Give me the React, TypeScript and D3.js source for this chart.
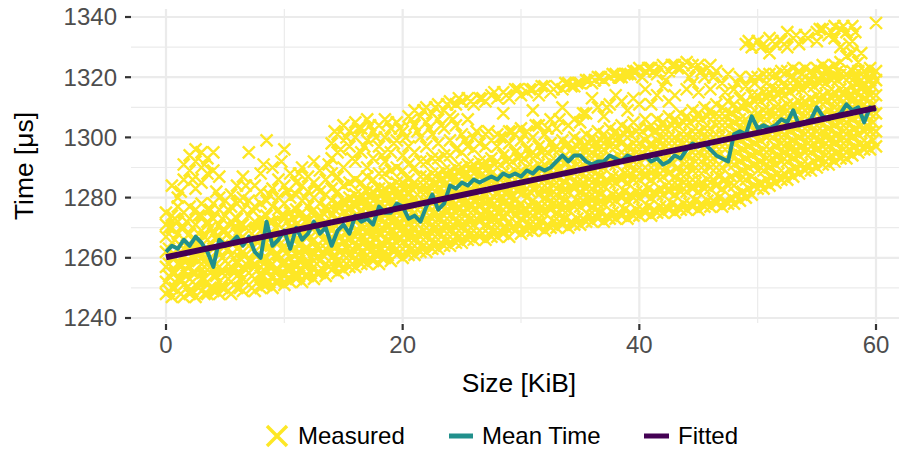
import React from 'react';
import * as d3 from 'd3';

const W = 899;
const H = 450;

const xTicks = [0, 20, 40, 60];
const xMinor = [10, 30, 50];
const yTicks = [1240, 1260, 1280, 1300, 1320, 1340];
const yMinor = [1250, 1270, 1290, 1310, 1330];

// fitted linear model, two ends
const fittedSize = [0, 60];
const fittedTime = [1260.2, 1309.8];

// mean time per size [size KiB, time us]
const meanTime: [number, number][] = [
  [0, 1262], [0.5, 1264], [1, 1263], [1.5, 1266], [2, 1264], [2.5, 1267], [3, 1265], [3.5, 1262],
  [4, 1257], [4.5, 1266], [5, 1264], [5.5, 1265], [6, 1267], [6.5, 1264], [7, 1267], [7.5, 1262],
  [8, 1260], [8.5, 1272], [9, 1264], [9.5, 1266], [10, 1269], [10.5, 1263], [11, 1270], [11.5, 1266],
  [12, 1268], [12.5, 1272], [13, 1268], [13.5, 1270], [14, 1264], [14.5, 1269], [15, 1271], [15.5, 1268],
  [16, 1274], [16.5, 1272], [17, 1273], [17.5, 1271], [18, 1277], [18.5, 1275], [19, 1275], [19.5, 1278],
  [20, 1277], [20.5, 1273], [21, 1274], [21.5, 1272], [22, 1277], [22.5, 1281], [23, 1276], [23.5, 1278],
  [24, 1284], [24.5, 1283], [25, 1285], [25.5, 1284], [26, 1286], [26.5, 1285], [27, 1286], [27.5, 1287],
  [28, 1286], [28.5, 1288], [29, 1287], [29.5, 1288], [30, 1287], [30.5, 1289], [31, 1288], [31.5, 1290],
  [32, 1289], [32.5, 1290], [33, 1292], [33.5, 1294], [34, 1292], [34.5, 1294], [35, 1294], [35.5, 1292],
  [36, 1291], [36.5, 1292], [37, 1292], [37.5, 1294], [38, 1293], [38.5, 1292], [39, 1294], [39.5, 1293],
  [40, 1293], [40.5, 1294], [41, 1292], [41.5, 1293], [42, 1291], [42.5, 1292], [43, 1294], [43.5, 1293],
  [44, 1296], [44.5, 1298], [45, 1297], [45.5, 1298], [46, 1296], [46.5, 1294], [47, 1293], [47.5, 1292],
  [48, 1301], [48.5, 1302], [49, 1301], [49.5, 1307], [50, 1303], [50.5, 1304], [51, 1303], [51.5, 1304],
  [52, 1306], [52.5, 1305], [53, 1309], [53.5, 1304], [54, 1305], [54.5, 1306], [55, 1310], [55.5, 1307],
  [56, 1306], [56.5, 1307], [57, 1308], [57.5, 1311], [58, 1309], [58.5, 1310], [59, 1305], [59.5, 1310],
  [60, 1309],
];

// measured samples: first entry is the size (KiB), the rest are times (us)
const measured: number[][] = [
  [0, 1248, 1252, 1257, 1262, 1267, 1271, 1275],
  [0.5, 1247, 1250, 1255, 1260, 1265, 1270, 1274, 1284],
  [1, 1249, 1253, 1258, 1263, 1268, 1272, 1277, 1280],
  [1.5, 1247, 1251, 1256, 1261, 1266, 1270, 1275, 1291, 1286],
  [2, 1248, 1253, 1257, 1262, 1268, 1273, 1277, 1289, 1294],
  [2.5, 1247, 1251, 1255, 1260, 1265, 1271, 1276, 1292, 1296, 1283],
  [3, 1249, 1253, 1258, 1264, 1269, 1274, 1278, 1290, 1295, 1285],
  [3.5, 1248, 1252, 1256, 1261, 1266, 1272, 1276, 1293, 1288],
  [4, 1249, 1254, 1259, 1263, 1268, 1273, 1278, 1295, 1289],
  [4.5, 1248, 1252, 1257, 1262, 1267, 1271, 1276, 1280, 1287],
  [5, 1250, 1254, 1259, 1264, 1269, 1274, 1279],
  [5.5, 1248, 1252, 1257, 1261, 1266, 1272, 1277, 1281],
  [6, 1250, 1254, 1258, 1263, 1268, 1273, 1278, 1284],
  [6.5, 1249, 1253, 1257, 1262, 1267, 1271, 1276, 1280, 1287],
  [7, 1251, 1255, 1259, 1264, 1269, 1274, 1279, 1295],
  [7.5, 1249, 1253, 1258, 1262, 1267, 1272, 1277, 1284],
  [8, 1250, 1254, 1259, 1264, 1269, 1273, 1278, 1282, 1288],
  [8.5, 1251, 1255, 1260, 1265, 1270, 1274, 1279, 1299],
  [9, 1250, 1254, 1258, 1263, 1268, 1272, 1277, 1283, 1290],
  [9.5, 1252, 1256, 1261, 1266, 1271, 1276, 1280, 1286],
  [10, 1251, 1255, 1259, 1264, 1269, 1274, 1278, 1284, 1296],
  [10.5, 1252, 1256, 1260, 1265, 1270, 1275, 1280, 1288],
  [11, 1253, 1257, 1261, 1266, 1271, 1276, 1281, 1285],
  [11.5, 1252, 1256, 1261, 1265, 1270, 1275, 1279, 1284, 1290],
  [12, 1254, 1258, 1263, 1268, 1272, 1277, 1282, 1287],
  [12.5, 1253, 1257, 1262, 1266, 1271, 1276, 1280, 1285, 1292],
  [13, 1255, 1259, 1263, 1268, 1273, 1278, 1282, 1289],
  [13.5, 1254, 1258, 1263, 1267, 1272, 1277, 1281, 1286],
  [14, 1256, 1260, 1264, 1269, 1274, 1279, 1283, 1288, 1293, 1298],
  [14.5, 1255, 1259, 1264, 1268, 1273, 1278, 1282, 1287, 1301, 1295],
  [15, 1256, 1261, 1265, 1270, 1275, 1279, 1284, 1290, 1304],
  [15.5, 1257, 1261, 1266, 1271, 1276, 1280, 1285, 1297, 1302],
  [16, 1257, 1262, 1267, 1272, 1277, 1281, 1286, 1292, 1300, 1305],
  [16.5, 1258, 1262, 1267, 1271, 1276, 1281, 1285, 1295, 1303],
  [17, 1258, 1263, 1268, 1273, 1277, 1282, 1287, 1290, 1299, 1306],
  [17.5, 1259, 1263, 1268, 1272, 1277, 1282, 1286, 1293, 1302],
  [18, 1258, 1263, 1268, 1273, 1278, 1283, 1288, 1297, 1304],
  [18.5, 1260, 1264, 1269, 1274, 1279, 1283, 1288, 1292, 1300, 1306],
  [19, 1259, 1264, 1269, 1274, 1279, 1284, 1289, 1295, 1303],
  [19.5, 1261, 1265, 1270, 1275, 1280, 1285, 1290, 1299, 1305],
  [20, 1260, 1265, 1270, 1275, 1280, 1285, 1289, 1294, 1302],
  [20.5, 1261, 1266, 1271, 1276, 1281, 1286, 1291, 1297, 1307],
  [21, 1261, 1266, 1270, 1275, 1280, 1285, 1290, 1295, 1304, 1309],
  [21.5, 1262, 1267, 1272, 1277, 1282, 1287, 1292, 1300, 1307],
  [22, 1262, 1267, 1272, 1277, 1282, 1287, 1292, 1297, 1305, 1310],
  [22.5, 1263, 1268, 1273, 1278, 1283, 1288, 1293, 1301, 1308],
  [23, 1263, 1268, 1273, 1278, 1283, 1288, 1293, 1298, 1306, 1311],
  [23.5, 1264, 1269, 1274, 1279, 1284, 1289, 1294, 1303, 1309],
  [24, 1264, 1269, 1274, 1279, 1284, 1289, 1294, 1299, 1307, 1312],
  [24.5, 1265, 1270, 1275, 1280, 1285, 1290, 1296, 1304, 1311],
  [25, 1265, 1270, 1275, 1280, 1285, 1290, 1295, 1301, 1312],
  [25.5, 1266, 1271, 1276, 1281, 1286, 1291, 1297, 1306, 1313],
  [26, 1266, 1271, 1276, 1281, 1286, 1291, 1296, 1300, 1311],
  [26.5, 1267, 1272, 1277, 1282, 1287, 1292, 1298, 1313],
  [27, 1266, 1271, 1276, 1281, 1287, 1292, 1297, 1301, 1312],
  [27.5, 1267, 1272, 1277, 1283, 1288, 1293, 1299, 1314],
  [28, 1267, 1272, 1277, 1282, 1287, 1292, 1297, 1301, 1313],
  [28.5, 1268, 1273, 1278, 1283, 1288, 1294, 1300, 1308, 1315],
  [29, 1267, 1272, 1278, 1283, 1288, 1293, 1298, 1302, 1313],
  [29.5, 1269, 1274, 1279, 1284, 1289, 1295, 1301, 1316],
  [30, 1268, 1273, 1278, 1284, 1289, 1294, 1299, 1303, 1314],
  [30.5, 1269, 1274, 1280, 1285, 1290, 1296, 1302, 1315],
  [31, 1269, 1274, 1279, 1285, 1290, 1295, 1300, 1309, 1316],
  [31.5, 1270, 1275, 1281, 1286, 1291, 1297, 1304, 1314],
  [32, 1269, 1275, 1280, 1286, 1291, 1296, 1301, 1317],
  [32.5, 1270, 1276, 1281, 1287, 1292, 1298, 1306, 1315],
  [33, 1270, 1275, 1281, 1287, 1292, 1297, 1303, 1317],
  [33.5, 1271, 1276, 1282, 1288, 1293, 1299, 1310, 1316],
  [34, 1270, 1276, 1282, 1287, 1293, 1298, 1304, 1318],
  [34.5, 1271, 1277, 1283, 1288, 1294, 1300, 1306, 1317],
  [35, 1271, 1277, 1282, 1288, 1294, 1299, 1305, 1318],
  [35.5, 1272, 1278, 1283, 1289, 1295, 1301, 1308, 1319],
  [36, 1272, 1277, 1283, 1289, 1295, 1300, 1313, 1318],
  [36.5, 1273, 1278, 1284, 1290, 1296, 1302, 1310, 1320],
  [37, 1272, 1278, 1284, 1290, 1296, 1301, 1307, 1319],
  [37.5, 1273, 1279, 1285, 1291, 1297, 1303, 1311, 1320],
  [38, 1273, 1279, 1285, 1291, 1297, 1302, 1314, 1321],
  [38.5, 1274, 1280, 1286, 1292, 1298, 1304, 1312, 1320],
  [39, 1273, 1279, 1285, 1291, 1297, 1303, 1309, 1321],
  [39.5, 1274, 1280, 1286, 1292, 1298, 1305, 1313, 1322],
  [40, 1274, 1280, 1286, 1292, 1298, 1303, 1311, 1323],
  [40.5, 1275, 1281, 1287, 1293, 1299, 1306, 1316, 1322],
  [41, 1274, 1280, 1286, 1292, 1298, 1304, 1311, 1323],
  [41.5, 1275, 1281, 1287, 1293, 1299, 1306, 1314, 1321],
  [42, 1275, 1281, 1287, 1293, 1300, 1305, 1317, 1324],
  [42.5, 1276, 1282, 1288, 1294, 1300, 1307, 1312, 1322],
  [43, 1275, 1281, 1287, 1294, 1300, 1306, 1314, 1324],
  [43.5, 1276, 1282, 1288, 1295, 1301, 1308, 1323],
  [44, 1276, 1282, 1288, 1294, 1301, 1307, 1316, 1325],
  [44.5, 1277, 1283, 1289, 1295, 1302, 1309, 1318, 1324],
  [45, 1276, 1282, 1289, 1295, 1302, 1308, 1315, 1324],
  [45.5, 1277, 1283, 1289, 1296, 1303, 1310, 1320],
  [46, 1277, 1283, 1290, 1296, 1303, 1309, 1316, 1324],
  [46.5, 1278, 1284, 1290, 1297, 1304, 1311, 1322],
  [47, 1277, 1283, 1290, 1297, 1304, 1310, 1318],
  [47.5, 1278, 1284, 1291, 1297, 1304, 1312, 1321],
  [48, 1278, 1284, 1291, 1298, 1305, 1311, 1316],
  [48.5, 1279, 1286, 1292, 1299, 1306, 1313, 1320],
  [49, 1280, 1286, 1293, 1300, 1306, 1312, 1317, 1331],
  [49.5, 1281, 1287, 1294, 1301, 1308, 1314, 1320, 1330],
  [50, 1283, 1289, 1295, 1302, 1308, 1314, 1320, 1332],
  [50.5, 1283, 1289, 1296, 1302, 1309, 1315, 1321, 1331],
  [51, 1284, 1290, 1296, 1303, 1309, 1315, 1321, 1333, 1328],
  [51.5, 1285, 1291, 1297, 1303, 1310, 1316, 1321, 1331],
  [52, 1286, 1292, 1298, 1304, 1310, 1316, 1322, 1332],
  [52.5, 1286, 1292, 1298, 1305, 1311, 1317, 1322, 1330, 1335],
  [53, 1287, 1293, 1299, 1305, 1311, 1317, 1323, 1333],
  [53.5, 1288, 1294, 1300, 1306, 1312, 1318, 1322, 1331],
  [54, 1289, 1295, 1301, 1307, 1312, 1318, 1323, 1334],
  [54.5, 1289, 1295, 1301, 1307, 1313, 1319, 1322],
  [55, 1290, 1296, 1302, 1308, 1314, 1319, 1323, 1335, 1332],
  [55.5, 1291, 1297, 1302, 1308, 1314, 1320, 1324, 1336],
  [56, 1291, 1297, 1303, 1309, 1315, 1320, 1323, 1334],
  [56.5, 1292, 1298, 1304, 1310, 1315, 1320, 1324, 1337, 1333],
  [57, 1293, 1299, 1305, 1310, 1316, 1321, 1325, 1336, 1330],
  [57.5, 1293, 1299, 1305, 1311, 1316, 1321, 1327, 1335],
  [58, 1294, 1300, 1306, 1312, 1317, 1322, 1328, 1337, 1332],
  [58.5, 1295, 1301, 1307, 1312, 1318, 1322, 1325],
  [59, 1296, 1302, 1307, 1313, 1318, 1322, 1320],
  [59.5, 1296, 1302, 1308, 1314, 1319, 1323],
  [60, 1297, 1302, 1308, 1314, 1319, 1322, 1338],
];

// further measured samples taken between the sizes above
const measuredBetween: number[][] = [
  [0.25, 1249, 1254, 1258, 1263, 1270], [0.75, 1250, 1255, 1260, 1266, 1273],
  [1.25, 1248, 1253, 1258, 1264, 1270, 1282], [1.75, 1250, 1254, 1259, 1264, 1272],
  [2.25, 1249, 1255, 1260, 1266, 1270, 1286], [2.75, 1250, 1254, 1259, 1263, 1268, 1274],
  [3.25, 1248, 1253, 1257, 1262, 1267, 1291], [3.75, 1250, 1255, 1260, 1265, 1270, 1276],
  [4.25, 1249, 1254, 1258, 1262, 1266, 1282], [4.75, 1250, 1255, 1260, 1264, 1269, 1273],
  [5.25, 1249, 1253, 1258, 1263, 1268, 1276], [5.75, 1251, 1256, 1260, 1265, 1270],
  [6.25, 1250, 1255, 1260, 1266, 1271, 1279], [6.75, 1252, 1256, 1261, 1265, 1270, 1284],
  [7.25, 1250, 1254, 1259, 1263, 1268, 1276], [7.75, 1252, 1256, 1261, 1266, 1271],
  [8.25, 1251, 1256, 1260, 1265, 1270, 1291], [8.75, 1252, 1257, 1262, 1267, 1272, 1281],
  [9.25, 1252, 1256, 1261, 1266, 1270], [9.75, 1253, 1258, 1263, 1268, 1274, 1292],
  [10.25, 1253, 1257, 1262, 1267, 1272, 1282], [10.75, 1254, 1258, 1263, 1268, 1273],
  [11.25, 1254, 1259, 1264, 1269, 1274, 1288], [11.75, 1254, 1258, 1263, 1268, 1272, 1280],
  [12.25, 1255, 1260, 1265, 1270, 1275], [12.75, 1255, 1260, 1264, 1269, 1273, 1283],
  [13.25, 1256, 1261, 1266, 1270, 1275], [13.75, 1257, 1262, 1266, 1271, 1276, 1291],
  [14.25, 1257, 1261, 1266, 1271, 1276, 1302], [14.75, 1258, 1262, 1267, 1272, 1277, 1296],
  [15.25, 1258, 1263, 1268, 1273, 1278, 1300], [15.75, 1258, 1263, 1268, 1273, 1278, 1293],
  [16.25, 1259, 1264, 1269, 1274, 1279, 1303], [16.75, 1260, 1265, 1270, 1274, 1279, 1297],
  [17.25, 1260, 1265, 1270, 1275, 1280, 1304], [17.75, 1261, 1266, 1270, 1275, 1280, 1300],
  [18.25, 1260, 1265, 1270, 1276, 1281, 1294], [18.75, 1261, 1266, 1271, 1276, 1281, 1305],
  [19.25, 1262, 1267, 1272, 1277, 1282, 1298], [19.75, 1262, 1267, 1272, 1277, 1282, 1303],
  [20.25, 1262, 1268, 1273, 1278, 1283, 1300], [20.75, 1263, 1268, 1273, 1278, 1283, 1306],
  [21.25, 1263, 1268, 1273, 1278, 1284, 1302], [21.75, 1264, 1269, 1274, 1279, 1284, 1309],
  [22.25, 1264, 1269, 1274, 1279, 1284, 1303], [22.75, 1265, 1270, 1275, 1280, 1285, 1310],
  [23.25, 1265, 1270, 1275, 1281, 1286, 1304], [23.75, 1266, 1271, 1276, 1281, 1287, 1311],
  [24.25, 1266, 1271, 1277, 1282, 1287, 1306], [24.75, 1267, 1272, 1277, 1282, 1288, 1313],
  [25.25, 1267, 1272, 1278, 1283, 1288, 1299], [25.75, 1268, 1273, 1278, 1283, 1289, 1312],
  [26.25, 1268, 1273, 1279, 1284, 1289, 1302], [26.75, 1268, 1274, 1279, 1284, 1290, 1313],
  [27.25, 1268, 1274, 1279, 1285, 1290, 1302], [27.75, 1269, 1274, 1280, 1285, 1291, 1315],
  [28.25, 1269, 1275, 1280, 1286, 1291, 1300], [28.75, 1270, 1275, 1281, 1286, 1292, 1314],
  [29.25, 1270, 1276, 1281, 1287, 1292, 1302], [29.75, 1271, 1276, 1282, 1287, 1293, 1316],
  [30.25, 1270, 1276, 1282, 1287, 1293, 1301], [30.75, 1271, 1277, 1282, 1288, 1294, 1316],
  [31.25, 1271, 1277, 1283, 1288, 1294, 1304], [31.75, 1272, 1277, 1283, 1289, 1295, 1317],
  [32.25, 1271, 1277, 1283, 1289, 1295, 1303], [32.75, 1272, 1278, 1284, 1290, 1296, 1316],
  [33.25, 1272, 1278, 1284, 1290, 1296, 1306], [33.75, 1273, 1279, 1285, 1291, 1297, 1318],
  [34.25, 1272, 1278, 1284, 1290, 1296, 1317], [34.75, 1273, 1279, 1285, 1291, 1297, 1318],
  [35.25, 1273, 1279, 1285, 1291, 1297, 1308], [35.75, 1274, 1280, 1286, 1292, 1298, 1319],
  [36.25, 1274, 1280, 1286, 1292, 1298, 1319], [36.75, 1275, 1281, 1287, 1293, 1299, 1320],
  [37.25, 1274, 1280, 1286, 1292, 1299, 1310], [37.75, 1275, 1281, 1287, 1293, 1300, 1321],
  [38.25, 1275, 1281, 1287, 1294, 1300, 1320], [38.75, 1276, 1282, 1288, 1294, 1301, 1321],
  [39.25, 1275, 1281, 1288, 1294, 1301, 1321], [39.75, 1276, 1282, 1289, 1295, 1302, 1322],
  [40.25, 1276, 1282, 1289, 1295, 1302, 1320], [40.75, 1277, 1283, 1289, 1296, 1303, 1323],
  [41.25, 1276, 1282, 1289, 1296, 1302, 1322], [41.75, 1277, 1283, 1290, 1296, 1303, 1323],
  [42.25, 1277, 1284, 1290, 1297, 1303, 1319], [42.75, 1278, 1284, 1291, 1297, 1304, 1324],
  [43.25, 1277, 1284, 1290, 1297, 1304, 1323], [43.75, 1278, 1285, 1291, 1298, 1305, 1324],
  [44.25, 1278, 1285, 1291, 1298, 1305, 1320], [44.75, 1279, 1285, 1292, 1299, 1306, 1323],
  [45.25, 1278, 1285, 1292, 1299, 1306, 1322], [45.75, 1279, 1286, 1293, 1300, 1307, 1323],
  [46.25, 1279, 1286, 1293, 1300, 1307, 1320], [46.75, 1280, 1287, 1294, 1300, 1307],
  [47.25, 1279, 1286, 1293, 1300, 1307, 1315], [47.75, 1280, 1287, 1294, 1301, 1308],
  [48.25, 1281, 1288, 1295, 1302, 1309, 1318], [48.75, 1282, 1289, 1296, 1303, 1310],
  [49.25, 1283, 1290, 1297, 1304, 1311, 1332], [49.75, 1284, 1291, 1298, 1305, 1312, 1318],
  [50.25, 1285, 1292, 1299, 1306, 1312, 1330], [50.75, 1286, 1293, 1300, 1306, 1313, 1318],
  [51.25, 1287, 1293, 1300, 1307, 1313, 1332], [51.75, 1288, 1294, 1301, 1307, 1314, 1319],
  [52.25, 1288, 1295, 1301, 1308, 1314, 1331], [52.75, 1289, 1296, 1302, 1308, 1315, 1320],
  [53.25, 1290, 1296, 1303, 1309, 1316, 1334], [53.75, 1291, 1297, 1304, 1310, 1316, 1321],
  [54.25, 1291, 1298, 1304, 1310, 1317, 1333], [54.75, 1292, 1298, 1305, 1311, 1317, 1321],
  [55.25, 1293, 1299, 1305, 1312, 1318, 1336], [55.75, 1294, 1300, 1306, 1312, 1318, 1322],
  [56.25, 1294, 1300, 1307, 1313, 1319, 1335], [56.75, 1295, 1301, 1307, 1313, 1319, 1322],
  [57.25, 1296, 1302, 1308, 1314, 1320, 1337], [57.75, 1296, 1302, 1308, 1314, 1320, 1331],
  [58.25, 1297, 1303, 1309, 1315, 1320, 1335], [58.75, 1298, 1304, 1310, 1316, 1321, 1328],
  [59.25, 1298, 1304, 1310, 1316, 1321], [59.75, 1299, 1305, 1311, 1317, 1321],
];

const YELLOW = '#FDE725';
const TEAL = '#21908C';
const PURPLE = '#440154';
const GRID = '#EBEBEB';

const panel = { left: 131, right: 899, top: 9, bottom: 323 };

export default function App() {
  const x = d3.scaleLinear().domain([0, 60]).range([166, 876]);
  const y = d3.scaleLinear().domain([1240, 1340]).range([318, 17]);

  // all the crosses in one path
  const r = 6;
  const cross = d3.path();
  measured.concat(measuredBetween).forEach(row => {
    const px = x(row[0]);
    row.slice(1).forEach(t => {
      const py = y(t);
      cross.moveTo(px - r, py - r);
      cross.lineTo(px + r, py + r);
      cross.moveTo(px - r, py + r);
      cross.lineTo(px + r, py - r);
    });
  });

  const line = d3.line<[number, number]>().x(d => x(d[0])).y(d => y(d[1]));
  const fitted: [number, number][] = fittedSize.map((s, i) => [s, fittedTime[i]]);

  const font = '"Liberation Sans", Arial, sans-serif';

  return (
    <svg width={W} height={H} style={{ position: 'absolute', left: 0, top: 0, background: '#fff' }}
      fontFamily={font}>
      {/* grid */}
      {yMinor.map(t => (
        <line key={'ym' + t} x1={panel.left} x2={panel.right} y1={y(t)} y2={y(t)} stroke={GRID} strokeWidth={1.2} />
      ))}
      {xMinor.map(s => (
        <line key={'xm' + s} x1={x(s)} x2={x(s)} y1={panel.top} y2={panel.bottom} stroke={GRID} strokeWidth={1.2} />
      ))}
      {yTicks.map(t => (
        <line key={'yg' + t} x1={panel.left} x2={panel.right} y1={y(t)} y2={y(t)} stroke={GRID} strokeWidth={2.2} />
      ))}
      {xTicks.map(s => (
        <line key={'xg' + s} x1={x(s)} x2={x(s)} y1={panel.top} y2={panel.bottom} stroke={GRID} strokeWidth={2.2} />
      ))}

      {/* data */}
      <path d={cross.toString()} stroke={YELLOW} strokeWidth={2.4} fill="none" />
      <path d={line(meanTime) || ''} stroke={TEAL} strokeWidth={4} fill="none" strokeLinejoin="round" />
      <path d={line(fitted) || ''} stroke={PURPLE} strokeWidth={6} fill="none" />

      {/* y axis */}
      {yTicks.map(t => (
        <g key={'yt' + t}>
          <line x1={125} x2={131} y1={y(t)} y2={y(t)} stroke="#333" strokeWidth={2.2} />
          <text x={117} y={y(t)} dy="0.35em" textAnchor="end" fontSize={24} fill="#4D4D4D">{t}</text>
        </g>
      ))}
      {/* x axis */}
      {xTicks.map(s => (
        <g key={'xt' + s}>
          <line x1={x(s)} x2={x(s)} y1={324} y2={330} stroke="#333" strokeWidth={2.2} />
          <text x={x(s)} y={353} textAnchor="middle" fontSize={24} fill="#4D4D4D">{s}</text>
        </g>
      ))}

      <text x={519} y={392} textAnchor="middle" fontSize={26.4} fill="#000">Size [KiB]</text>
      <text transform={`translate(33, ${(panel.top + panel.bottom) / 2}) rotate(-90)`} textAnchor="middle"
        fontSize={26.4} fill="#000">Time [μs]</text>

      {/* legend */}
      <g>
        <path d="M267,426L287,446M267,446L287,426" stroke={YELLOW} strokeWidth={3.5} />
        <text x={298} y={444} fontSize={24} fill="#000">Measured</text>
        <line x1={449} x2={473} y1={436} y2={436} stroke={TEAL} strokeWidth={5} />
        <text x={482} y={444} fontSize={24} fill="#000">Mean Time</text>
        <line x1={644} x2={669} y1={436} y2={436} stroke={PURPLE} strokeWidth={5} />
        <text x={678} y={444} fontSize={24} fill="#000">Fitted</text>
      </g>
    </svg>
  );
}
